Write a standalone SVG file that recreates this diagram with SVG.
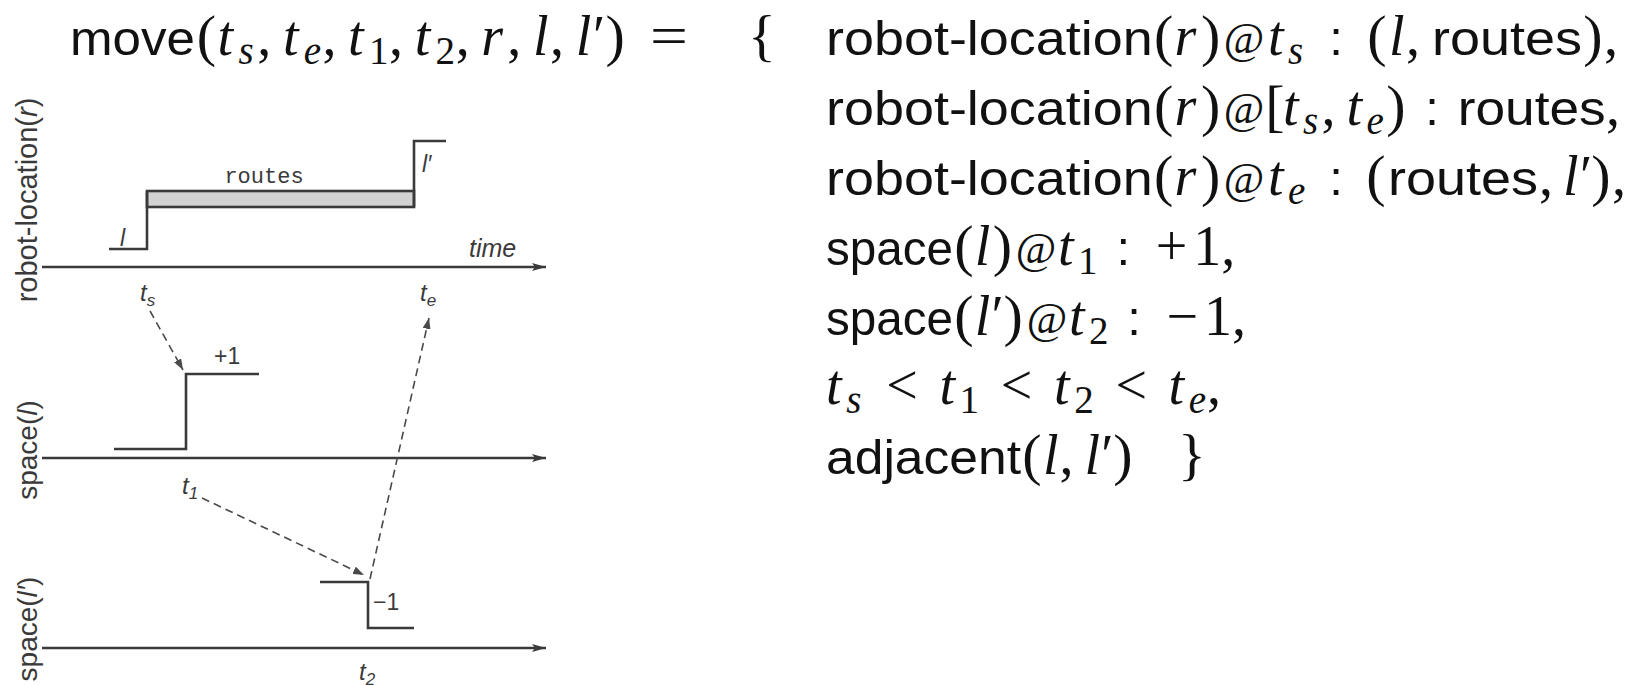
<svg xmlns="http://www.w3.org/2000/svg" width="1630" height="686" viewBox="0 0 1630 686">
  <style>
    .sf { font-family: "Liberation Sans", Arial, sans-serif; fill: #111; }
    .mi { font-family: "Liberation Serif", "DejaVu Serif", serif; font-style: italic; fill: #111; }
    .rm { font-family: "Liberation Serif", "DejaVu Serif", serif; fill: #111; }
    .big { font-size: 49px; }
    .var { font-size: 56px; }
    .sub { font-size: 39px; }
    .op { font-size: 56px; text-anchor: middle; }
    .at { font-size: 44px; text-anchor: middle; }
    .par { font-size: 58px; text-anchor: middle; }
    .trace { fill: none; stroke: #3a3a3a; stroke-width: 2.6; }
    .axis { fill: none; stroke: #3a3a3a; stroke-width: 2.6; }
    .band { fill: #d2d2d2; stroke: #3a3a3a; stroke-width: 2.6; }
    .dash { fill: none; stroke: #4a4a4a; stroke-width: 1.6; stroke-dasharray: 8 5; }
    .lab { font-family: "Liberation Sans", Arial, sans-serif; fill: #3a3a3a; }
    .it { font-style: italic; }
    .tt { font-family: "Liberation Mono", "Courier New", monospace; fill: #3a3a3a; }
  </style>
  <defs>
    <marker id="axisArrow" viewBox="0 0 14 8" refX="14" refY="4" markerWidth="14" markerHeight="8" markerUnits="userSpaceOnUse" orient="auto">
      <path d="M0,0 L14,4 L0,8 L3,4 z" fill="#3a3a3a"/>
    </marker>
    <marker id="dashArrow" viewBox="0 0 11 8" refX="11" refY="4" markerWidth="11" markerHeight="8" markerUnits="userSpaceOnUse" orient="auto">
      <path d="M0,0 L11,4 L0,8 z" fill="#4a4a4a"/>
    </marker>
  </defs>

  <rect width="1630" height="686" fill="#ffffff"/>

  <!-- definition head: move(ts, te, t1, t2, r, l, l') = { -->
  <g id="head">
    <text class="sf big" x="70" y="55" textLength="125" lengthAdjust="spacingAndGlyphs">move</text>
    <text class="rm par" x="206.4" y="55">(</text>
    <text class="mi var" x="217.6" y="55">t</text><text class="mi sub" x="238.4" y="64">s</text>
    <text class="rm var" x="257.3" y="55">,</text>
    <text class="mi var" x="282.9" y="55">t</text><text class="mi sub" x="303.7" y="64">e</text>
    <text class="rm var" x="322.5" y="55">,</text>
    <text class="mi var" x="348.1" y="55">t</text><text class="rm sub" x="368.9" y="64">1</text>
    <text class="rm var" x="389.1" y="55">,</text>
    <text class="mi var" x="414.7" y="55">t</text><text class="rm sub" x="435.5" y="64">2</text>
    <text class="rm var" x="455.7" y="55">,</text>
    <text class="mi var" x="481.3" y="55">r</text>
    <text class="rm var" x="507.3" y="55">,</text>
    <text class="mi var" x="532.9" y="55">l</text>
    <text class="rm var" x="550.1" y="55">,</text>
    <text class="mi var" x="575.7" y="55">l</text><text class="rm var" x="592.9" y="55">′</text>
    <text class="rm par" x="615.2" y="55">)</text>
    <text class="rm op" x="669" y="55" transform="translate(669,0) scale(1.2,1) translate(-669,0)">=</text>
    <text class="rm par" x="762" y="55">{</text>
  </g>

  <!-- body of the definition, one line per assertion -->
  <g id="assertions">
    <g id="row1">
      <text class="sf big" x="826" y="55" textLength="326.7" lengthAdjust="spacingAndGlyphs">robot-location</text>
      <text class="rm par" x="1163.6" y="55">(</text>
      <text class="mi var" x="1174.5" y="55">r</text>
      <text class="rm par" x="1210.7" y="55">)</text>
      <text class="rm at" x="1244" y="53">@</text>
      <text class="mi var" x="1268" y="55">t</text><text class="mi sub" x="1288" y="64">s</text>
      <text class="sf big" x="1336" y="55" text-anchor="middle">:</text>
      <text class="rm par" x="1377" y="55">(</text>
      <text class="mi var" x="1389" y="55">l</text>
      <text class="rm var" x="1406" y="55">,</text>
      <text class="sf big" x="1432" y="55" textLength="150" lengthAdjust="spacingAndGlyphs">routes</text>
      <text class="rm par" x="1593" y="55">)</text>
      <text class="rm var" x="1604" y="55">,</text>
    </g>
    <g id="row2">
      <text class="sf big" x="826" y="125" textLength="326.7" lengthAdjust="spacingAndGlyphs">robot-location</text>
      <text class="rm par" x="1163.6" y="125">(</text>
      <text class="mi var" x="1174.5" y="125">r</text>
      <text class="rm par" x="1210.7" y="125">)</text>
      <text class="rm at" x="1244" y="123">@</text>
      <text class="rm par" x="1275" y="125">[</text>
      <text class="mi var" x="1283" y="125">t</text><text class="mi sub" x="1303" y="134">s</text>
      <text class="rm var" x="1321.4" y="125">,</text>
      <text class="mi var" x="1346.4" y="125">t</text><text class="mi sub" x="1366.6" y="134">e</text>
      <text class="rm par" x="1396" y="125">)</text>
      <text class="sf big" x="1432" y="125" text-anchor="middle">:</text>
      <text class="sf big" x="1457.7" y="125" textLength="148" lengthAdjust="spacingAndGlyphs">routes</text>
      <text class="rm var" x="1606" y="125">,</text>
    </g>
    <g id="row3">
      <text class="sf big" x="826" y="195" textLength="326.7" lengthAdjust="spacingAndGlyphs">robot-location</text>
      <text class="rm par" x="1163.6" y="195">(</text>
      <text class="mi var" x="1174.5" y="195">r</text>
      <text class="rm par" x="1210.7" y="195">)</text>
      <text class="rm at" x="1244" y="193">@</text>
      <text class="mi var" x="1268" y="195">t</text><text class="mi sub" x="1288" y="204">e</text>
      <text class="sf big" x="1336" y="195" text-anchor="middle">:</text>
      <text class="rm par" x="1376" y="195">(</text>
      <text class="sf big" x="1388" y="195" textLength="150" lengthAdjust="spacingAndGlyphs">routes</text>
      <text class="rm var" x="1539" y="195">,</text>
      <text class="mi var" x="1563" y="195">l</text><text class="rm var" x="1580" y="195">′</text>
      <text class="rm par" x="1601" y="195">)</text>
      <text class="rm var" x="1612" y="195">,</text>
    </g>
    <g id="row4">
      <text class="sf big" x="826" y="265" textLength="127" lengthAdjust="spacingAndGlyphs">space</text>
      <text class="rm par" x="963.9" y="265">(</text>
      <text class="mi var" x="974.8" y="265">l</text>
      <text class="rm par" x="1002.4" y="265">)</text>
      <text class="rm at" x="1036" y="263">@</text>
      <text class="mi var" x="1058" y="265">t</text><text class="rm sub" x="1078" y="274">1</text>
      <text class="sf big" x="1123.2" y="265" text-anchor="middle">:</text>
      <text class="rm op" x="1171.5" y="265">+</text>
      <text class="rm var" x="1193.3" y="265">1</text>
      <text class="rm var" x="1221.3" y="265">,</text>
    </g>
    <g id="row5">
      <text class="sf big" x="826" y="335" textLength="127" lengthAdjust="spacingAndGlyphs">space</text>
      <text class="rm par" x="963.9" y="335">(</text>
      <text class="mi var" x="974.8" y="335">l</text><text class="rm var" x="991.5" y="335">′</text>
      <text class="rm par" x="1013.2" y="335">)</text>
      <text class="rm at" x="1047" y="333">@</text>
      <text class="mi var" x="1069" y="335">t</text><text class="rm sub" x="1089" y="344">2</text>
      <text class="sf big" x="1134" y="335" text-anchor="middle">:</text>
      <text class="rm op" x="1182.3" y="335">−</text>
      <text class="rm var" x="1204.1" y="335">1</text>
      <text class="rm var" x="1232.1" y="335">,</text>
    </g>
    <g id="row6">
      <text class="mi var" x="826" y="404">t</text><text class="mi sub" x="846.2" y="413">s</text>
      <text class="rm op" x="902" y="404">&lt;</text>
      <text class="mi var" x="939.4" y="404">t</text><text class="rm sub" x="959.6" y="413">1</text>
      <text class="rm op" x="1016.6" y="404">&lt;</text>
      <text class="mi var" x="1054" y="404">t</text><text class="rm sub" x="1074.2" y="413">2</text>
      <text class="rm op" x="1131.2" y="404">&lt;</text>
      <text class="mi var" x="1168.6" y="404">t</text><text class="mi sub" x="1188.8" y="413">e</text>
      <text class="rm var" x="1207.1" y="404">,</text>
    </g>
    <g id="row7">
      <text class="sf big" x="826" y="474" textLength="195.1" lengthAdjust="spacingAndGlyphs">adjacent</text>
      <text class="rm par" x="1032" y="474">(</text>
      <text class="mi var" x="1042.9" y="474">l</text>
      <text class="rm var" x="1059.6" y="474">,</text>
      <text class="mi var" x="1084.6" y="474">l</text><text class="rm var" x="1101.3" y="474">′</text>
      <text class="rm par" x="1123" y="474">)</text>
      <text class="rm par" x="1192" y="474">}</text>
    </g>
  </g>

  <!-- timeline of robot-location(r) -->
  <g id="robot-location-track">
    <text class="lab" font-size="29" transform="translate(37,200) rotate(-90)" text-anchor="middle">robot-location(<tspan class="it">r</tspan>)</text>
    <line class="axis" x1="42" y1="267" x2="546" y2="267" marker-end="url(#axisArrow)"/>
    <rect class="band" x="147" y="191" width="267" height="16"/>
    <polyline class="trace" points="109,249 147,249 147,191"/>
    <polyline class="trace" points="414,207 414,141 446,141"/>
    <text class="tt" font-size="22" x="264" y="183" text-anchor="middle">routes</text>
    <text class="lab it" font-size="23" x="120" y="246">l</text>
    <text class="lab it" font-size="23" x="422" y="172">l′</text>
    <text class="lab it" font-size="25" x="469" y="257">time</text>
    <text class="lab it" font-size="24" x="140" y="301">t<tspan font-size="17" dy="5">s</tspan></text>
    <text class="lab it" font-size="24" x="420" y="301">t<tspan font-size="17" dy="5">e</tspan></text>
  </g>

  <!-- timeline of space(l) -->
  <g id="space-l-track">
    <text class="lab" font-size="28" transform="translate(37,450) rotate(-90)" text-anchor="middle">space(<tspan class="it">l</tspan>)</text>
    <line class="axis" x1="42" y1="458" x2="546" y2="458" marker-end="url(#axisArrow)"/>
    <polyline class="trace" points="114,449 186,449 186,374 259,374"/>
    <text class="lab" font-size="23" x="214" y="364">+1</text>
    <text class="lab it" font-size="24" x="182" y="494">t<tspan font-size="17" dy="5">1</tspan></text>
  </g>

  <!-- timeline of space(l') -->
  <g id="space-lprime-track">
    <text class="lab" font-size="28" transform="translate(37,629) rotate(-90)" text-anchor="middle">space(<tspan class="it">l′</tspan>)</text>
    <line class="axis" x1="42" y1="648" x2="546" y2="648" marker-end="url(#axisArrow)"/>
    <polyline class="trace" points="320,582 368,582 368,628 414,628"/>
    <text class="lab" font-size="23" x="373" y="610">−1</text>
    <text class="lab it" font-size="24" x="359" y="680">t<tspan font-size="17" dy="5">2</tspan></text>
  </g>

  <!-- dashed links between the time points -->
  <g id="connectors">
    <line class="dash" x1="150" y1="311" x2="183" y2="370" marker-end="url(#dashArrow)"/>
    <line class="dash" x1="202" y1="498" x2="364" y2="575" marker-end="url(#dashArrow)"/>
    <line class="dash" x1="370" y1="579" x2="429" y2="318" marker-end="url(#dashArrow)"/>
  </g>
</svg>
